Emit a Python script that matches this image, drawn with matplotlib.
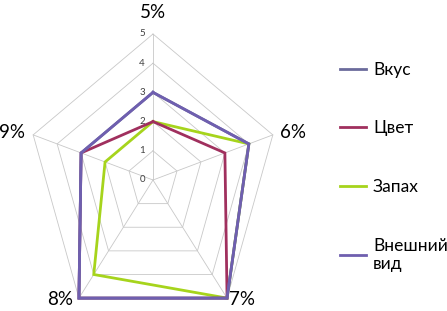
import numpy as np
import matplotlib.pyplot as plt

categories = ["5%", "6%", "7%", "8%", "9%"]
series_names = ["Вкус", "Цвет", "Запах", "Внешний\nвид"]
vkus = [3, 4, 5, 5, 3]
cvet = [2, 3, 5, 5, 3]
zapah = [2, 4, 5, 4, 2]
vneshniy = [3, 4, 5, 5, 3]
ring_ticks = [0, 1, 2, 3, 4, 5]

colors = ["#6B6B9C", "#A0305E", "#A6D41C", "#6F5FAF"]
plt.rcParams["font.family"] = ["Lato", "DejaVu Sans"]

W, H = 447, 311
fig = plt.figure(figsize=(W / 100, H / 100), dpi=100)

# centre at (153, 180) px, 29.2 px per unit vertically, 25.2 px per unit horizontally
cx, cy, uy, ux = 153, 180, 29.2, 25.2
xlim = (-6.0, 6.0)
ylim = (-4.3, 5.5)
left = (cx + xlim[0] * ux) / W
width = (xlim[1] - xlim[0]) * ux / W
bottom = (H - (cy - ylim[0] * uy)) / H
height = (ylim[1] - ylim[0]) * uy / H
ax = fig.add_axes([left, bottom, width, height])
ax.set_xlim(*xlim)
ax.set_ylim(*ylim)
ax.axis("off")

n = len(categories)
theta = np.arange(n) * 2 * np.pi / n  # clockwise from top


def to_xy(r):
    r = np.asarray(r, dtype=float)
    return r * np.sin(theta), r * np.cos(theta)


def closed(a):
    return np.append(a, a[0])


# grid rings and spokes
for r in ring_ticks[1:]:
    x, y = to_xy([r] * n)
    ax.plot(closed(x), closed(y), color="#C8C8C8", lw=0.6, zorder=1)
x5, y5 = to_xy([ring_ticks[-1]] * n)
for i in range(n):
    ax.plot([0, x5[i]], [0, y5[i]], color="#C8C8C8", lw=0.6, zorder=1)

# radial tick labels along the top spoke
for r in ring_ticks:
    ax.annotate(str(r), (0, r), xytext=(-8, 0), textcoords="offset pixels",
                ha="right", va="center", fontsize=7, color="#404040")

# category labels
offsets = [(0, 22), (20, 2), (15, -1), (-19, -1), (-21, 2)]
for i, lab in enumerate(categories):
    ax.annotate(lab, (x5[i], y5[i]), xytext=offsets[i], textcoords="offset pixels",
                ha="center", va="center", fontsize=13.5)

# series
all_vals = [vkus, cvet, zapah, vneshniy]
zorders = [4, 3, 2, 5]
lines = []
for vals, name, c, z in zip(all_vals, series_names, colors, zorders):
    x, y = to_xy(vals)
    ln, = ax.plot(closed(x), closed(y), color=c, lw=2.0, label=name, zorder=z,
                  solid_joinstyle="miter")
    lines.append(ln)

fig.legend(handles=lines, loc="upper left", bbox_to_anchor=(333 / W, 1 - 55 / H),
           frameon=False, fontsize=12.5, labelspacing=2.45, handlelength=1.5,
           handletextpad=0.4, borderaxespad=0)

fig.savefig("out.png", dpi=100)
